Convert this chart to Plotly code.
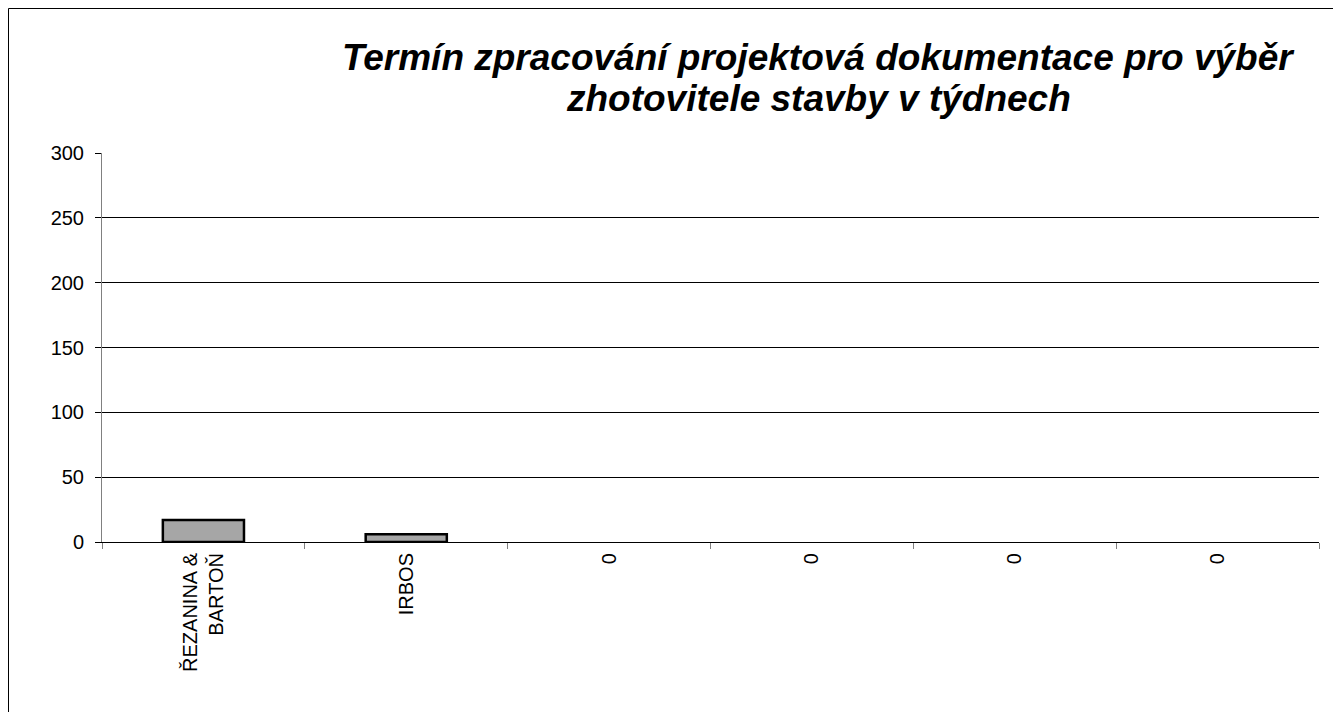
import plotly.graph_objects as go

categories = ["c1", "c2", "c3", "c4", "c5", "c6"]
tick_labels = ["ŘEZANINA &<br>BARTOŇ", "IRBOS", "0", "0", "0", "0"]
values = [17, 6, 0, 0, 0, 0]
title_lines = ["Termín zpracování projektová dokumentace pro výběr",
               "zhotovitele stavby v týdnech"]

# page has an 8px body margin; figure coordinates below are relative to the figure origin
W, H = 1341, 712
L, R, T, B = 94, 1311, 145, 534
PW, PH = R - L, B - T

fig = go.Figure()
fig.add_trace(go.Bar(
    x=categories, y=values, width=0.4,
    marker=dict(color="#a6a6a6",
                line=dict(color="black", width=[2.5 if v else 0 for v in values])),
    showlegend=False,
))

font = "Liberation Sans, Arial, sans-serif"
annotations = []
for i, (line, base) in enumerate(zip(title_lines, [62, 103])):
    annotations.append(dict(
        text=line, showarrow=False,
        xref="paper", yref="paper",
        x=(810 - L) / PW, xanchor="center",
        y=(B - (base - 13)) / PH, yanchor="middle",
        font=dict(family=font, size=37, color="black", weight="bold", style="italic"),
    ))

fig.update_layout(
    width=W, height=H,
    margin=dict(l=L, r=W - R, t=T, b=H - B, autoexpand=False),
    paper_bgcolor="white", plot_bgcolor="white",
    font=dict(family=font, size=20, color="black"),
    annotations=annotations,
    xaxis=dict(
        type="category", range=[-0.5, 5.5],
        tickvals=categories, ticktext=tick_labels,
        tickson="boundaries", ticks="outside", ticklen=6, tickcolor="#808080",
        tickangle=-90, showgrid=False, showline=True, linecolor="black", linewidth=1,
        tickfont=dict(size=20, color="black"), ticklabelstandoff=2,
    ),
    yaxis=dict(
        range=[0, 300], tickvals=[0, 50, 100, 150, 200, 250, 300],
        showgrid=True, gridcolor="black", gridwidth=1,
        showline=True, linecolor="#808080", linewidth=1,
        ticks="outside", ticklen=6, tickcolor="black",
        zeroline=False, tickfont=dict(size=20, color="black"),
        ticklabelstandoff=7,
    ),
    shapes=[dict(
        type="rect", xref="paper", yref="paper",
        x0=(0.5 - L) / PW, x1=(W - 0.5 - L) / PW,
        y0=(B - (H - 0.5)) / PH, y1=(B - 0.5) / PH,
        line=dict(color="black", width=1), layer="below",
    )],
)

fig.write_html("out.html")
